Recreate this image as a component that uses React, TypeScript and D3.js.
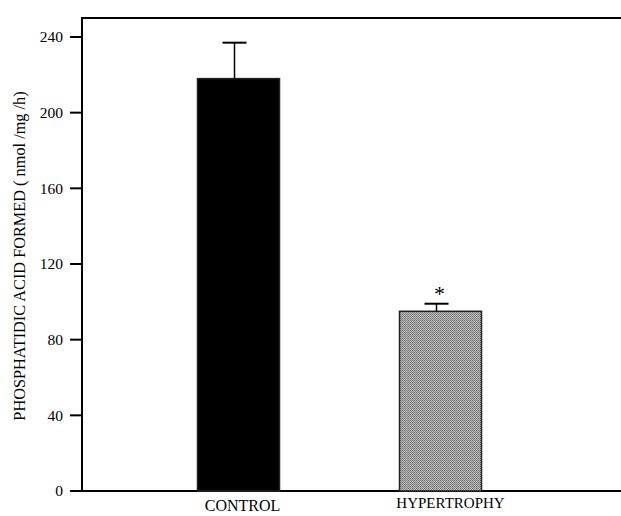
import React from "react";
import * as d3 from "d3";

const categories = ["CONTROL", "HYPERTROPHY"];
const means = [218, 95];
const errors = [19, 4];
const significant = [false, true];
const yTicks = [0, 40, 80, 120, 160, 200, 240];
const fills = ["#000000", "url(#stipple)"];

export default function App() {
  const W = 621, H = 516;
  const left = 82, bottom = 491, top = 18, right = 621;
  const y = d3.scaleLinear().domain([0, 240]).range([bottom, 37]);
  const x = d3.scalePoint<string>().domain(categories).range([238.5, 440.5]);
  const barW = 82;
  const font = "'Liberation Serif', 'Times New Roman', serif";
  const labelOffsets = [4, 10];
  const labelY = [511, 508];
  const labelSize = [16, 15];

  return (
    <svg width={W} height={H} style={{ position: "absolute", left: 0, top: 0, background: "#fff" }}>
      <defs>
        <pattern id="stipple" width="2" height="2" patternUnits="userSpaceOnUse">
          <rect width="2" height="2" fill="#c4c4c4" />
          <rect width="1" height="1" fill="#6c6c6c" />
          <rect x="1" y="1" width="1" height="1" fill="#7c7c7c" />
        </pattern>
      </defs>
      <line x1={left} y1={top} x2={right} y2={top} stroke="#000" strokeWidth={2} />
      <line x1={left} y1={top - 1} x2={left} y2={bottom} stroke="#000" strokeWidth={2} />
      <line x1={73} y1={bottom} x2={right} y2={bottom} stroke="#000" strokeWidth={2} />
      {yTicks.map((t) => (
        <g key={t}>
          <line x1={70} x2={left} y1={y(t)} y2={y(t)} stroke="#000" strokeWidth={2} />
          <text x={63} y={y(t)} dy="0.35em" textAnchor="end" fontFamily={font} fontSize={15.5}>
            {t}
          </text>
        </g>
      ))}
      {categories.map((c, i) => {
        const cx = x(c)!;
        return (
          <g key={c}>
            <rect
              x={cx - barW / 2}
              y={y(means[i])}
              width={barW}
              height={bottom - y(means[i])}
              fill={fills[i]}
              stroke="#222"
              strokeWidth={1.5}
            />
            <line x1={cx - 4} x2={cx - 4} y1={y(means[i])} y2={y(means[i] + errors[i])} stroke="#000" strokeWidth={1.5} />
            <line x1={cx - 16} x2={cx + 8} y1={y(means[i] + errors[i])} y2={y(means[i] + errors[i])} stroke="#000" strokeWidth={2} />
            {significant[i] && (
              <text x={cx - 1} y={y(means[i] + errors[i]) - 3} textAnchor="middle" fontFamily={font} fontSize={22}>
                *
              </text>
            )}
            <text x={cx + labelOffsets[i]} y={labelY[i]} textAnchor="middle" fontFamily={font} fontSize={labelSize[i]}>
              {c}
            </text>
          </g>
        );
      })}
      <text
        transform={`translate(25, 256) rotate(-90)`}
        textAnchor="middle"
        fontFamily={font}
        fontSize={16.3}
      >
        PHOSPHATIDIC ACID FORMED ( nmol /mg /h)
      </text>
    </svg>
  );
}
